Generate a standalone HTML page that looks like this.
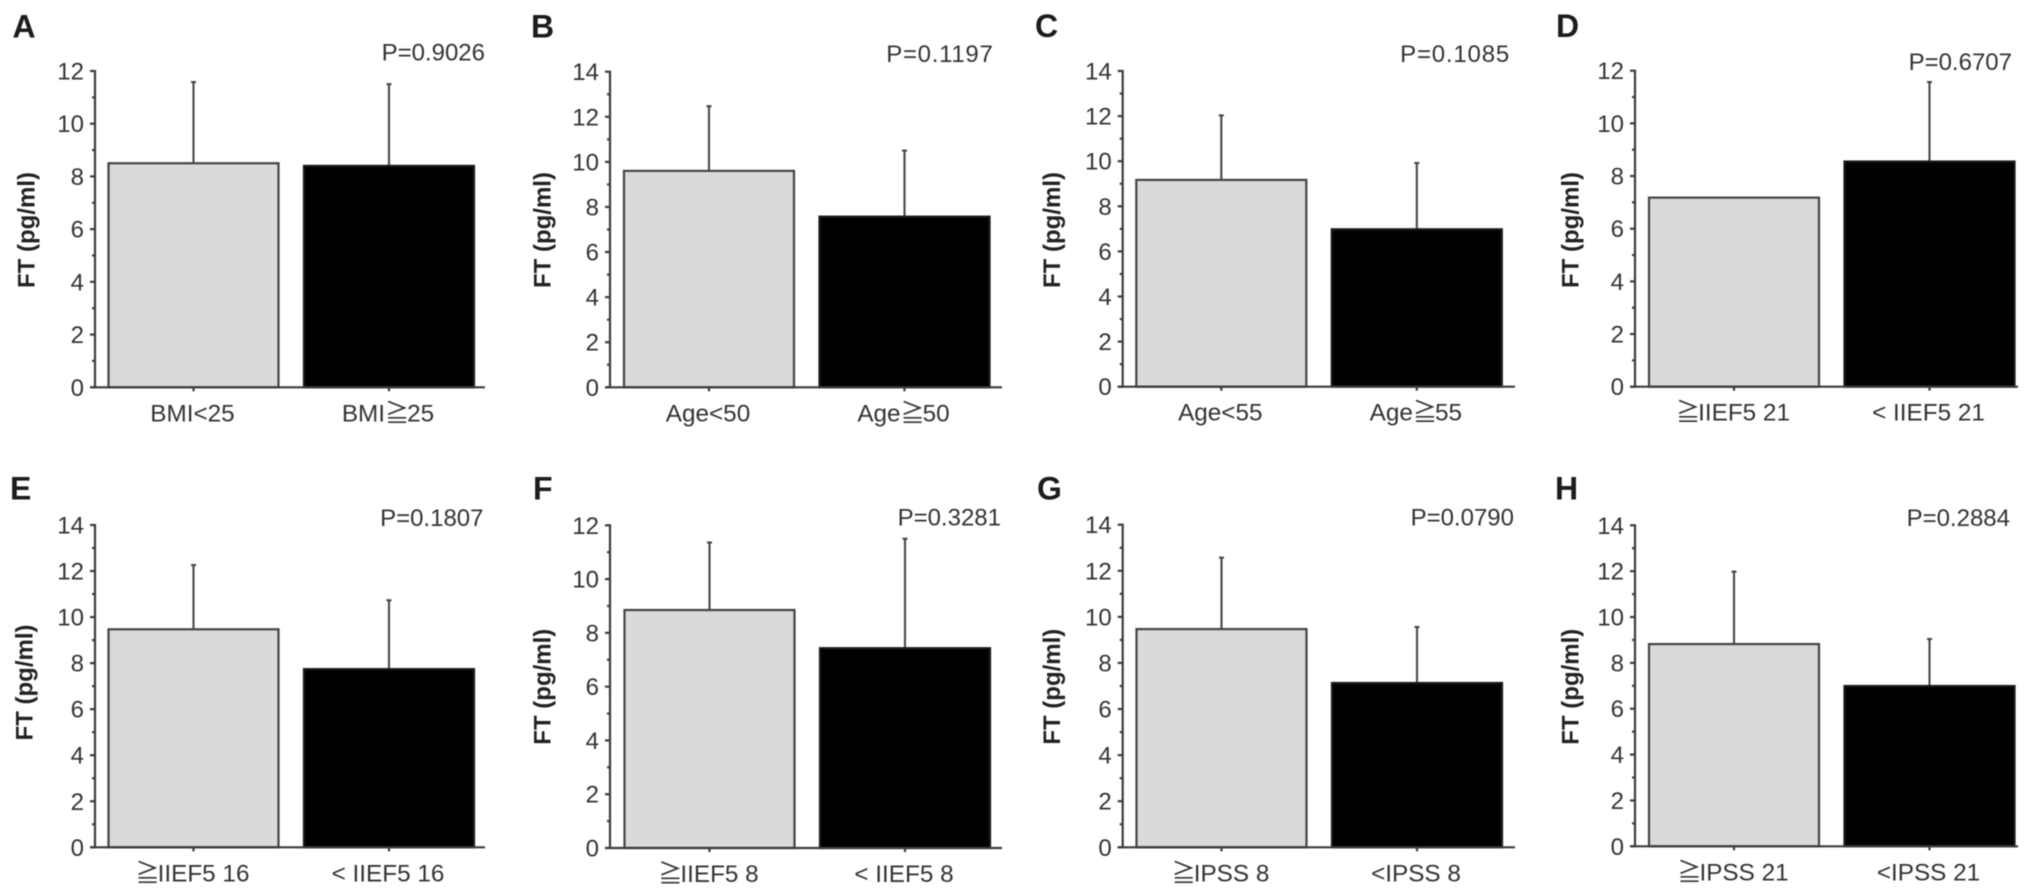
<!DOCTYPE html>
<html lang="en">
<head>
<meta charset="utf-8">
<title>FT (pg/ml) bar charts, panels A to H</title>
<style>
  html, body { margin: 0; padding: 0; background: #fff; }
  #figure { display: block; width: 2031px; height: 895px; filter: blur(0.5px);
            font-family: "Liberation Sans", "Noto Sans CJK JP", sans-serif; }
  .tick-text { font-size: 24px; fill: #333; }
  .cat-text { font-size: 24.3px; fill: #333; }
  .p-text { font-size: 24px; fill: #333; }
  .y-title { font-size: 24px; font-weight: 700; fill: #222; }
  .panel-letter { font-size: 32px; font-weight: 700; fill: #1c1c1c; }
  .axis-line { stroke: #3c3c3c; stroke-width: 2.2; fill: none; }
  .err-line { stroke: #484848; stroke-width: 2.1; fill: none; }
</style>
</head>
<body>
<svg id="figure" xmlns="http://www.w3.org/2000/svg" width="2031" height="895" viewBox="0 0 2031 895"></svg>
<script>
// ---- chart data ----
const panelLetters = ['A', 'B', 'C', 'D', 'E', 'F', 'G', 'H'];
const pLabels = ['P=0.9026', 'P=0.1197', 'P=0.1085', 'P=0.6707', 'P=0.1807', 'P=0.3281', 'P=0.0790', 'P=0.2884'];
const categoryLabels = [
  ['BMI<25', 'BMI≧25'],
  ['Age<50', 'Age≧50'],
  ['Age<55', 'Age≧55'],
  ['≧IIEF5 21', '< IIEF5 21'],
  ['≧IIEF5 16', '< IIEF5 16'],
  ['≧IIEF5 8', '< IIEF5 8'],
  ['≧IPSS 8', '<IPSS 8'],
  ['≧IPSS 21', '<IPSS 21']
];
const meanValues = [
  [8.5, 8.4],
  [9.6, 7.57],
  [9.17, 6.98],
  [7.18, 8.55],
  [9.47, 7.74],
  [8.85, 7.43],
  [9.47, 7.13],
  [8.82, 6.99]
];
const errorTops = [
  [11.58, 11.5],
  [12.47, 10.5],
  [12.03, 9.92],
  [null, 11.57],
  [12.26, 10.73],
  [11.36, 11.5],
  [12.57, 9.56],
  [11.98, 9.04]
];
const axisMaxima = [12, 14, 14, 12, 14, 12, 14, 14];
const yTickLabels12 = ['0', '2', '4', '6', '8', '10', '12'];
const yTickLabels14 = ['0', '2', '4', '6', '8', '10', '12', '14'];
const yAxisTitle = 'FT (pg/ml)';

// ---- layout of each panel frame (not data) ----
const layout = [
  { ax: 95,     y0: 387.3, yTop: 71,    end: 485,  band: 108.5,  pX: 485,  pY: 60.7, pS: 0,   tX: 34.5,   tY: 230,   lX: 12.5, lY: 37.3 },
  { ax: 610,    y0: 387.3, yTop: 71.7,  end: 1002, band: 624,    pX: 993.5, pY: 62,  pS: 0.7, tX: 550.7,  tY: 230,   lX: 531,  lY: 37.3 },
  { ax: 1122.7, y0: 386.7, yTop: 71,    end: 1515, band: 1136.3, pX: 1510, pY: 62,   pS: 0.8, tX: 1060,   tY: 230,   lX: 1035, lY: 37 },
  { ax: 1635,   y0: 386.7, yTop: 70.7,  end: 2018, band: 1649,   pX: 2012, pY: 70,   pS: 0,   tX: 1578.3, tY: 230,   lX: 1556, lY: 37 },
  { ax: 95,     y0: 847.3, yTop: 525,   end: 485,  band: 108.5,  pX: 483.5, pY: 526, pS: 0,   tX: 32.3,   tY: 682.5, lX: 10,   lY: 499.7 },
  { ax: 610,    y0: 848,   yTop: 525.3, end: 1002, band: 624.5,  pX: 1001, pY: 525.7, pS: 0,  tX: 550.7,  tY: 686.7, lX: 533,  lY: 499.7 },
  { ax: 1122.7, y0: 847.3, yTop: 524.7, end: 1515, band: 1136.5, pX: 1514, pY: 525.7, pS: 0,  tX: 1060,   tY: 686.7, lX: 1037, lY: 499.7 },
  { ax: 1635,   y0: 846.3, yTop: 525.3, end: 2018, band: 1649,   pX: 2010, pY: 526,  pS: 0,   tX: 1578.3, tY: 686.7, lX: 1555, lY: 499.7 }
];
const BAR_WIDTH = 170;
const BAR_GAP = 25.5;
const SVG_NS = 'http://www.w3.org/2000/svg';
const root = document.getElementById('figure');

function make(tag, attrs, parent, text) {
  const node = document.createElementNS(SVG_NS, tag);
  for (const key in attrs) node.setAttribute(key, attrs[key]);
  if (text !== undefined) node.textContent = text;
  parent.appendChild(node);
  return node;
}

// Writes a category label, pulling the glyph after the wide "≧" closer.
function writeCategory(textNode, label) {
  const at = label.indexOf('≧');
  if (at < 0) { textNode.textContent = label; return; }
  make('tspan', {}, textNode, label.slice(0, at + 1));
  make('tspan', { dx: -2.2 }, textNode, label.slice(at + 1));
}

function drawPanel(p) {
  const frame = layout[p];
  const maxValue = axisMaxima[p];
  const tickLabels = maxValue === 12 ? yTickLabels12 : yTickLabels14;
  // axis functions
  const yScale = function (v) { return frame.y0 - (v / maxValue) * (frame.y0 - frame.yTop); };
  const barLeft = function (i) { return frame.band + i * (BAR_WIDTH + BAR_GAP); };
  const barCenter = function (i) { return barLeft(i) + BAR_WIDTH / 2; };

  const group = make('g', {}, root);
  
  

  let el = make('text', { x: frame.lX, y: frame.lY, class: 'panel-letter' }, group, panelLetters[p]);
  
  

  el = make('text', { x: frame.pX, y: frame.pY, class: 'p-text', 'text-anchor': 'end', 'letter-spacing': frame.pS }, group, pLabels[p]);
  
  

  el = make('text', { x: frame.tX, y: frame.tY, class: 'y-title', 'text-anchor': 'middle',
    transform: 'rotate(-90 ' + frame.tX + ' ' + frame.tY + ')' }, group, yAxisTitle);
  
  

  // bars and error bars
  meanValues[p].forEach(function (value, i) {
    const top = yScale(value);
    const errTop = errorTops[p][i];
    if (errTop !== null) {
      const stem = make('line', { x1: barCenter(i), x2: barCenter(i), y1: top, y2: yScale(errTop), class: 'err-line' }, group);
      
      
      const cap = make('line', { x1: barCenter(i) - 2.5, x2: barCenter(i) + 2.5, y1: yScale(errTop), y2: yScale(errTop), class: 'err-line' }, group);
      
      
    }
    const bar = make('rect', { x: barLeft(i), y: top, width: BAR_WIDTH, height: yScale(0) - top,
      fill: i === 0 ? '#dadada' : '#000', stroke: i === 0 ? '#444' : '#1a1a1a', 'stroke-width': 2.2 }, group);
    
    

    const tick = make('line', { x1: barCenter(i), x2: barCenter(i), y1: frame.y0, y2: frame.y0 + 4, class: 'axis-line' }, group);
    
    

    const label = make('text', { x: barCenter(i) - 1, y: frame.y0 + 34, class: 'cat-text', 'text-anchor': 'middle' }, group);
    writeCategory(label, categoryLabels[p][i]);
    
    
  });

  // axes
  el = make('line', { x1: frame.ax, x2: frame.ax, y1: frame.yTop - 1, y2: frame.y0 + 1, class: 'axis-line' }, group);
  
  

  el = make('line', { x1: frame.ax - 5, x2: frame.end, y1: frame.y0, y2: frame.y0, class: 'axis-line' }, group);
  
  

  tickLabels.forEach(function (label, i) {
    const value = Number(label);
    const y = yScale(value);
    const major = make('line', { x1: frame.ax - 5, x2: frame.ax, y1: y, y2: y, class: 'axis-line' }, group);
    
    

    const text = make('text', { x: frame.ax - 11, y: y + 8.5, class: 'tick-text', 'text-anchor': 'end' }, group, label);
    
    

    if (i < tickLabels.length - 1) {
      const midY = yScale(value + 1);
      const minor = make('line', { x1: frame.ax - 3, x2: frame.ax, y1: midY, y2: midY, class: 'axis-line' }, group);
      
      
    }
  });
}

panelLetters.forEach(function (_, p) { drawPanel(p); });
</script>
</body>
</html>
